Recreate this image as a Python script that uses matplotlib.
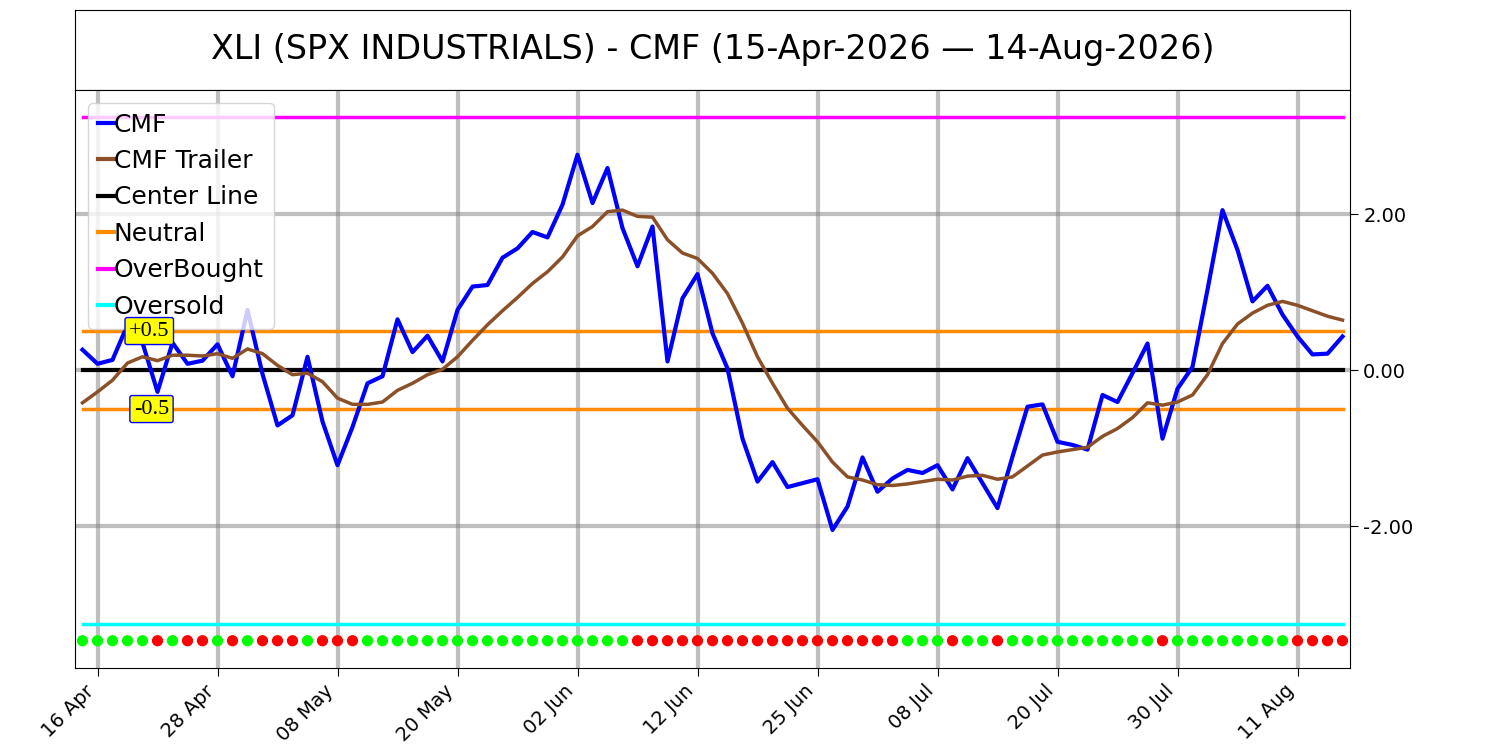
import numpy as np
import pandas as pd
import matplotlib
matplotlib.use('Agg')
import matplotlib.pyplot as plt

# trading days 15-Apr-2026 .. 14-Aug-2026 (NYSE holidays removed)
holidays = ['2026-05-25', '2026-06-19', '2026-07-03']
dates = pd.bdate_range('2026-04-15', '2026-08-14', freq='C', holidays=holidays)

cmf = [0.26, 0.08, 0.13, 0.58, 0.35, -0.28, 0.35, 0.08, 0.12, 0.33,
       -0.08, 0.77, -0.05, -0.71, -0.58, 0.17, -0.66, -1.22, -0.73, -0.17,
       -0.08, 0.65, 0.23, 0.44, 0.11, 0.77, 1.07, 1.09, 1.44, 1.56,
       1.77, 1.70, 2.12, 2.76, 2.14, 2.59, 1.82, 1.33, 1.84, 0.11,
       0.92, 1.23, 0.47, 0.02, -0.88, -1.43, -1.18, -1.50, -1.45, -1.40,
       -2.05, -1.75, -1.12, -1.56, -1.39, -1.28, -1.32, -1.22, -1.53, -1.13,
       -1.45, -1.77, -1.11, -0.47, -0.44, -0.92, -0.96, -1.02, -0.32, -0.41,
       -0.04, 0.34, -0.88, -0.24, 0.04, 1.03, 2.05, 1.54, 0.88, 1.08,
       0.71, 0.43, 0.20, 0.21, 0.43]

cmf_trailer = [-0.42, -0.28, -0.13, 0.09, 0.17, 0.12, 0.19, 0.19, 0.18, 0.21,
               0.15, 0.27, 0.21, 0.06, -0.06, -0.04, -0.15, -0.36, -0.44, -0.44,
               -0.41, -0.26, -0.17, -0.06, 0.01, 0.17, 0.38, 0.58, 0.76, 0.93,
               1.11, 1.26, 1.45, 1.72, 1.84, 2.03, 2.05, 1.97, 1.96, 1.67,
               1.50, 1.43, 1.24, 0.98, 0.60, 0.17, -0.17, -0.49, -0.71, -0.92,
               -1.18, -1.37, -1.41, -1.47, -1.48, -1.46, -1.43, -1.40, -1.41, -1.36,
               -1.35, -1.40, -1.37, -1.23, -1.09, -1.05, -1.02, -0.99, -0.85, -0.75,
               -0.61, -0.42, -0.45, -0.41, -0.32, -0.06, 0.34, 0.59, 0.73, 0.83,
               0.88, 0.83, 0.76, 0.69, 0.64]

# 1 = trailer rising (green dot), 0 = falling (red dot)
trend_up = [1, 1, 1, 1, 1, 0, 1, 0, 0, 1,
            0, 1, 0, 0, 0, 1, 0, 0, 0, 1,
            1, 1, 1, 1, 1, 1, 1, 1, 1, 1,
            1, 1, 1, 1, 1, 1, 1, 0, 0, 0,
            0, 0, 0, 0, 0, 0, 0, 0, 0, 0,
            0, 0, 0, 0, 0, 1, 1, 1, 0, 1,
            1, 0, 1, 1, 1, 1, 1, 1, 1, 1,
            1, 1, 0, 1, 1, 1, 1, 1, 1, 1,
            1, 0, 0, 0, 0]

center = 0.0
neutral_hi, neutral_lo = 0.5, -0.5
overbought, oversold = 3.25, -3.25
dot_level = -3.47

x = np.arange(len(cmf))
ones = np.ones(len(x))

fig = plt.figure(figsize=(15, 7.5), dpi=100)

# title box
tax = fig.add_axes([0.05, 0.88, 0.85, 0.1067])
tax.set_xticks([])
tax.set_yticks([])
tax.text(0.5, 0.5, 'XLI (SPX INDUSTRIALS) - CMF (15-Apr-2026 \u2014 14-Aug-2026)',
         ha='center', va='center', fontsize=24, transform=tax.transAxes)

ax = fig.add_axes([0.05, 0.1093, 0.85, 0.7707])
ax.plot(x, cmf, color='blue', lw=3, label='CMF', zorder=5)
ax.plot(x, cmf_trailer, color='#8b5028', lw=2.5, label='CMF Trailer', zorder=5)
ax.plot(x, center * ones, color='black', lw=3, label='Center Line', zorder=4)
ax.plot(x, neutral_hi * ones, color='#ff8c00', lw=2.5, label='Neutral', zorder=4)
ax.plot(x, neutral_lo * ones, color='#ff8c00', lw=2.5, zorder=4)
ax.plot(x, overbought * ones, color='magenta', lw=2.5, label='OverBought', zorder=4)
ax.plot(x, oversold * ones, color='cyan', lw=2.5, label='Oversold', zorder=4)

dot_colors = ['#00ff00' if t else '#ff0000' for t in trend_up]
ax.scatter(x, dot_level * ones, c=dot_colors, s=50, zorder=6)

box = dict(boxstyle='round,pad=0.18,rounding_size=0.1', facecolor='yellow',
           edgecolor='blue')
ax.text(4.45, neutral_hi, '+0.5', ha='center', va='center', fontsize=16,
        family='Liberation Serif', bbox=box, zorder=7)
ax.text(4.6, neutral_lo, '-0.5', ha='center', va='center', fontsize=16,
        family='Liberation Serif', bbox=box, zorder=7)

ax.set_xlim(-0.5, len(x) - 0.5)
ax.set_ylim(-3.82, 3.59)

tick_pos = list(range(1, len(x), 8))
ax.set_xticks(tick_pos)
ax.set_xticklabels([dates[i].strftime('%d %b') for i in tick_pos],
                   rotation=45, ha='right', fontsize=14)
ax.yaxis.tick_right()
ax.set_yticks([-2, 0, 2])
ax.set_yticklabels(['-2.00', '0.00', '2.00'], fontsize=14)
ax.tick_params(length=6)
ax.grid(True, color='gray', alpha=0.5, lw=3)

leg = ax.legend(loc='upper left', fontsize=18, handlelength=0.65, handletextpad=0.0,
                borderaxespad=0.5, labelspacing=0.5, borderpad=0.4)
for h in leg.get_lines():
    h.set_linewidth(3)

fig.savefig('out.png', dpi=100)
